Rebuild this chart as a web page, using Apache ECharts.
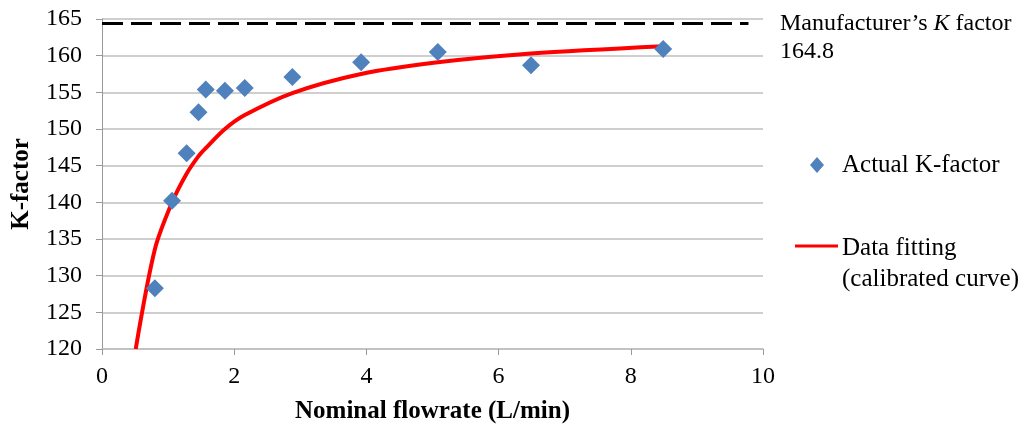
<!DOCTYPE html>
<html>
<head>
<meta charset="utf-8">
<script src="https://cdn.jsdelivr.net/npm/echarts@6/dist/echarts.min.js"></script>
<style>
	html, body { margin: 0; padding: 0; background: #fff; }
	#chart { width: 1028px; height: 430px; }
</style>
</head>
<body>
<div id="chart"></div>
<script>
	// measured K-factor points (flowrate L/min, K-factor)
	var flowrate = [0.80, 1.06, 1.28, 1.46, 1.57, 1.86, 2.16, 2.88, 3.92, 5.08, 6.49, 8.49];
	var kActual = [128.3, 140.2, 146.7, 152.3, 155.4, 155.2, 155.6, 157.1, 159.1, 160.5, 158.7, 160.9];

	// calibrated curve (fit evaluated at the same flowrates)
	var fitFlow = [0.51, 0.80, 1.06, 1.28, 1.46, 1.57, 1.86, 2.16, 2.88, 3.92, 5.08, 6.49, 8.49];
	var kFit = [120.0, 133.6, 140.0, 143.9, 146.3, 147.4, 150.0, 151.9, 154.9, 157.5, 159.1, 160.3, 161.3];

	// manufacturer's value line (drawn where it sits on the picture)
	var manuFlow = [0, 9.78];
	var manuK = [164.4, 164.4];

	var serif = "'Liberation Serif', 'Times New Roman', serif";

	function pairs(xs, ys) {
		var out = [];
		for (var i = 0; i < xs.length; i++) out.push([xs[i], ys[i]]);
		return out;
	}

	function label(x, y, txt, size) {
		return {
			type: 'text',
			style: {
				x: x, y: y, text: txt,
				fontFamily: serif, fontSize: size,
				fill: '#000', align: 'left', verticalAlign: 'middle'
			}
		};
	}

	var myChart = echarts.init(document.getElementById('chart'));
	var option = {
		animation: false,
		grid: {
			left: 102,
			top: 19,
			right: 265,
			bottom: 81
		},
		xAxis: {
			type: 'value',
			min: 0,
			max: 10,
			interval: 2,
			name: 'Nominal flowrate (L/min)',
			nameLocation: 'middle',
			nameGap: 50,
			nameTextStyle: {
				fontFamily: serif,
				fontSize: 25,
				fontWeight: 'bold',
				color: '#000'
			},
			axisLine: { lineStyle: { color: '#bfbfbf', width: 1.5 } },
			axisTick: { show: true, length: 6, lineStyle: { color: '#999' } },
			axisLabel: { fontFamily: serif, fontSize: 24, color: '#000', margin: 16 },
			splitLine: { show: false }
		},
		yAxis: {
			type: 'value',
			min: 120,
			max: 165,
			interval: 5,
			name: 'K-factor',
			nameLocation: 'middle',
			nameGap: 68,
			nameTextStyle: {
				fontFamily: serif,
				fontSize: 25,
				fontWeight: 'bold',
				color: '#000'
			},
			axisLine: { show: true, lineStyle: { color: '#999', width: 1 } },
			axisTick: { show: true, length: 6, lineStyle: { color: '#999' } },
			axisLabel: { fontFamily: serif, fontSize: 24, color: '#000', margin: 20 },
			splitLine: { show: true, lineStyle: { color: '#bfbfbf', width: 1.5 } }
		},
		series: [{
			name: 'Manufacturer',
			type: 'line',
			symbol: 'none',
			lineStyle: { color: '#000', width: 3, type: [21, 8] },
			data: pairs(manuFlow, manuK),
			z: 1
		}, {
			name: 'Data fitting',
			type: 'line',
			smooth: 0.3,
			symbol: 'none',
			lineStyle: { color: '#ff0000', width: 4 },
			data: pairs(fitFlow, kFit),
			z: 2
		}, {
			name: 'Actual K-factor',
			type: 'scatter',
			symbol: 'diamond',
			symbolSize: [18, 18],
			itemStyle: { color: '#4f81bd', opacity: 1 },
			data: pairs(flowrate, kActual),
			z: 3
		}],
		graphic: [{
			type: 'text',
			style: {
				x: 780, y: 24,
				text: '{n|Manufacturer\u2019s }{i|K}{n| factor}',
				verticalAlign: 'middle',
				rich: {
					n: { fontFamily: serif, fontSize: 24, fill: '#000' },
					i: { fontFamily: serif, fontSize: 24, fontStyle: 'italic', fill: '#000' }
				}
			}
		},
		label(780, 52, '164.8', 24),
		{
			type: 'polygon',
			shape: { points: [[817, 157], [824, 165], [817, 173], [810, 165]] },
			style: { fill: '#4f81bd' }
		},
		label(842, 165, 'Actual K-factor', 25),
		{
			type: 'line',
			shape: { x1: 795, y1: 246, x2: 838, y2: 246 },
			style: { stroke: '#ff0000', lineWidth: 3 }
		},
		label(842, 248, 'Data fitting', 25),
		label(842, 279, '(calibrated curve)', 25)
		]
	};
	myChart.setOption(option);
</script>
</body>
</html>
